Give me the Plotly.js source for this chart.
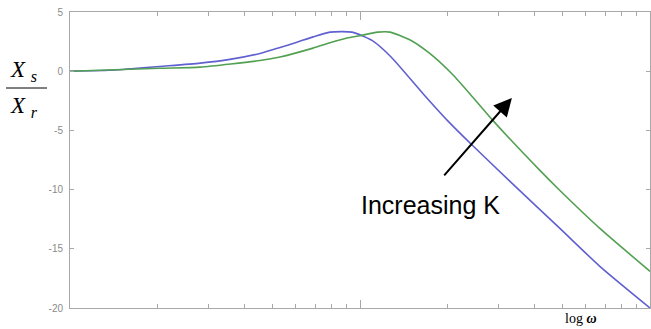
<!DOCTYPE html>
<html>
<head>
<meta charset="utf-8">
<script src="https://cdn.plot.ly/plotly-3.0.1.min.js"></script>
<style>html,body{margin:0;padding:0;background:#fff;}#chart{width:651px;height:329px;}</style>
</head>
<body>
<div id="chart"></div>
<script>
// Frequency (omega) samples and magnitude ratio values
var omegaLow = [0.1, 0.143, 0.204, 0.281, 0.356, 0.452, 0.530, 0.606, 0.689, 0.788, 0.939, 1.10, 1.28, 1.65, 2.0, 2.45, 3.29, 4.9, 6.73, 10];
var ratioLow = [0.0, 0.1, 0.4, 0.68, 1.0, 1.5, 2.0, 2.45, 2.9, 3.3, 3.3, 2.6, 1.2, -1.9, -4.15, -6.3, -9.3, -13.3, -16.5, -20.0];

var omegaHigh = [0.1, 0.204, 0.281, 0.452, 0.530, 0.689, 0.788, 0.902, 1.0, 1.15, 1.27, 1.50, 1.74, 2.09, 2.45, 2.87, 4.18, 4.9, 6.73, 10];
var ratioHigh = [0.0, 0.25, 0.34, 0.9, 1.2, 1.95, 2.4, 2.8, 3.0, 3.3, 3.3, 2.6, 1.5, -0.3, -2.2, -4.15, -8.4, -10.1, -13.3, -16.9];

var yTicks = [5, 0, -5, -10, -15, -20];
var majorX = [0.1, 1, 10];
var minorX = [0.2,0.3,0.4,0.5,0.6,0.7,0.8,0.9,2,3,4,5,6,7,8,9];

var L = 70, R = 650, T = 12, B = 308;
function px(x){ return (x - L) / (R - L); }
function py(y){ return (B - y) / (B - T); }

var traces = [
  {x: omegaLow, y: ratioLow, mode: 'lines', line: {color: '#6060d0', width: 1.6, shape: 'spline', smoothing: 0.6}, hoverinfo: 'skip'},
  {x: omegaHigh, y: ratioHigh, mode: 'lines', line: {color: '#52a052', width: 1.6, shape: 'spline', smoothing: 0.6}, hoverinfo: 'skip'}
];

var axisColor = '#a8a8a8';
var layout = {
  width: 651, height: 329,
  margin: {l: L, r: 651 - R, t: T, b: 329 - B, pad: 0},
  paper_bgcolor: '#fff', plot_bgcolor: '#fff',
  showlegend: false,
  xaxis: {
    type: 'log', range: [-1, 1],
    showgrid: false, zeroline: false,
    showline: true, linecolor: axisColor, linewidth: 1, mirror: 'ticks',
    ticks: 'inside', ticklen: 8, tickcolor: axisColor, tickwidth: 1,
    tickmode: 'array', tickvals: majorX, showticklabels: false,
    minor: {tickmode: 'array', tickvals: minorX, ticks: 'inside', ticklen: 4, tickcolor: axisColor, tickwidth: 1, showgrid: false}
  },
  yaxis: {
    range: [-20, 5],
    showgrid: false, zeroline: false,
    showline: true, linecolor: axisColor, linewidth: 1, mirror: 'ticks',
    ticks: 'inside', ticklen: 4, tickcolor: axisColor, tickwidth: 1,
    tickmode: 'array', tickvals: yTicks, ticktext: yTicks.map(String),
    tickfont: {family: 'Liberation Sans, Arial, sans-serif', size: 10, color: '#8a8a8a'},
    ticklabelstandoff: 4
  },
  shapes: [
    {type: 'line', xref: 'paper', yref: 'paper', x0: px(6), x1: px(47), y0: py(88), y1: py(88), line: {color: '#000', width: 1}}
  ],
  annotations: [
    {xref: 'paper', yref: 'paper', x: px(8), y: py(71), xanchor: 'left', yanchor: 'middle', showarrow: false,
     text: '<i>X</i> <sub><i>s</i></sub>', font: {family: 'Liberation Serif, Times New Roman, serif', size: 23, color: '#000'}},
    {xref: 'paper', yref: 'paper', x: px(8), y: py(107), xanchor: 'left', yanchor: 'middle', showarrow: false,
     text: '<i>X</i> <sub><i>r</i></sub>', font: {family: 'Liberation Serif, Times New Roman, serif', size: 23, color: '#000'}},
    {xref: 'paper', yref: 'paper', x: px(581), y: py(318), xanchor: 'center', yanchor: 'middle', showarrow: false,
     text: 'log <b><i>ω</i></b>', font: {family: 'Liberation Serif, Times New Roman, serif', size: 14, color: '#000'}},
    {xref: 'paper', yref: 'paper', x: px(430), y: py(205), xanchor: 'center', yanchor: 'middle', showarrow: false,
     text: 'Increasing K', font: {family: 'Liberation Sans, Arial, sans-serif', size: 25, color: '#000'}},
    {x: Math.log10(3.34), y: -2.26, xref: 'x', yref: 'y', text: '', showarrow: true,
     ax: -69, ay: 79, axref: 'pixel', ayref: 'pixel',
     arrowhead: 2, arrowsize: 1.8, arrowwidth: 2, arrowcolor: '#000', standoff: 0}
  ]
};

Plotly.newPlot('chart', traces, layout, {staticPlot: true, displayModeBar: false});
</script>
</body>
</html>
